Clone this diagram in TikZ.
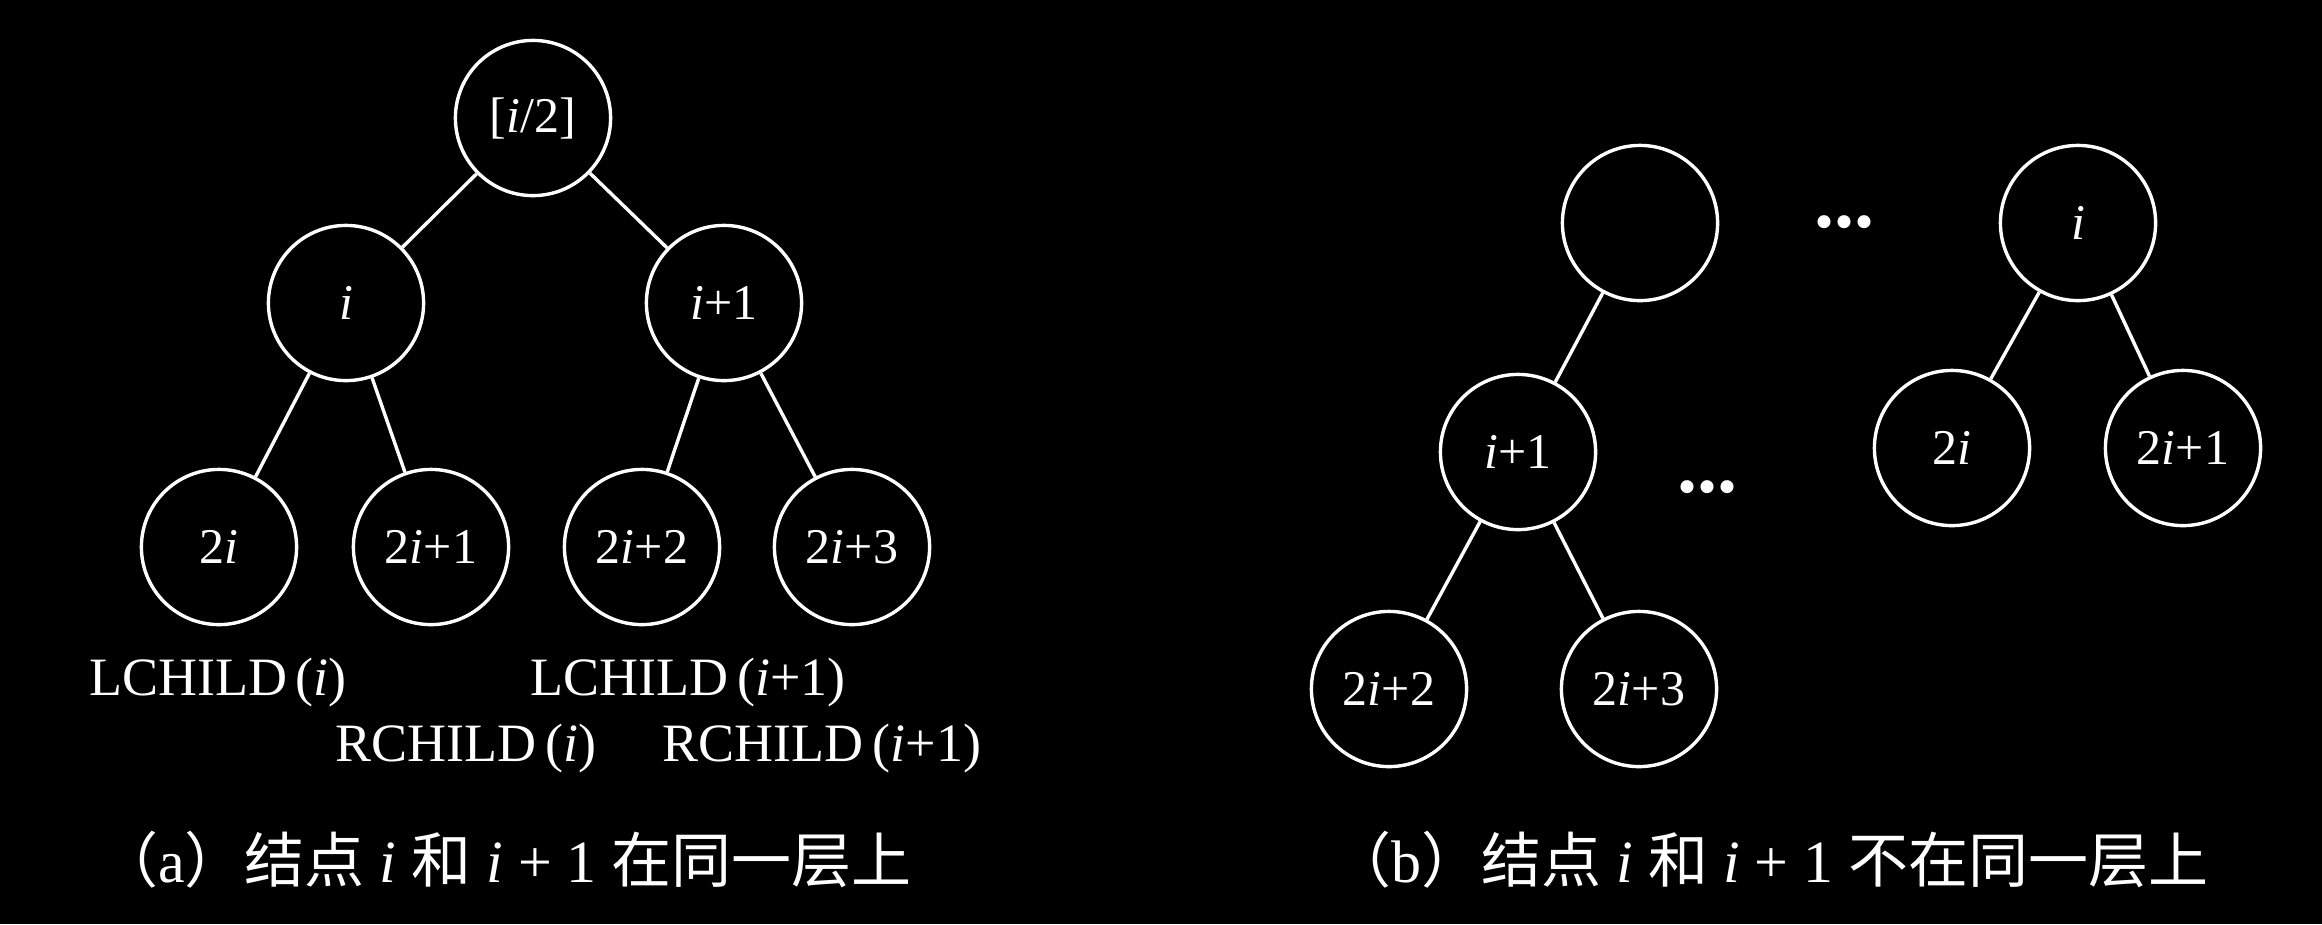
\documentclass[tikz,border=0pt]{standalone}
\usepackage{fontspec}
\setmainfont{Liberation Serif}
\newfontfamily\cjk{Noto Sans CJK SC}

\tikzset{every picture/.style={line width=0.85pt}}
\tikzset{
  vertex/.style={draw=white, circle, minimum size=38.8pt, inner sep=0pt, text=white, font=\fontsize{12.5}{14}\selectfont},
  link/.style={draw=white},
  childlabel/.style={text=white, inner sep=0.75pt, font=\fontsize{13.5}{16}\selectfont},
  captiontext/.style={text=white, inner sep=0.75pt, font=\fontsize{15}{18}\selectfont},
  ellipsisdots/.style={text=white, inner sep=0pt, font=\bfseries\fontsize{20}{20}\selectfont}
}

\begin{document}
\begin{tikzpicture}[x=0.25pt,y=0.25pt,yscale=-1,xscale=1]
%background, also sets the size of the picture
\fill[black] (0,0) rectangle (2322,924);

%(a) nodes on the same level
%Shape: Circle [root]
\node[vertex] (half) at (533,118) {[\textit{i}/2]};
%Shape: Circle [level 2]
\node[vertex] (ai) at (346,303) {\textit{i}};
\node[vertex] (aiplus) at (724,303) {\textit{i}+1};
%Shape: Circle [level 3]
\node[vertex] (atwoi) at (219,547) {2\textit{i}};
\node[vertex] (atwoia) at (431,547) {2\textit{i}+1};
\node[vertex] (atwoib) at (642,547) {2\textit{i}+2};
\node[vertex] (atwoic) at (852,547) {2\textit{i}+3};

%Straight Lines
\draw[link] (half) -- (ai);
\draw[link] (half) -- (aiplus);
\draw[link] (ai) -- (atwoi);
\draw[link] (ai) -- (atwoia);
\draw[link] (aiplus) -- (atwoib);
\draw[link] (aiplus) -- (atwoic);

% Text Node
\node[childlabel] (lci) at (218,682) {LCHILD\,(\textit{i})};
\node[childlabel] (lcip) at (688,682) {LCHILD\,(\textit{i}+1)};
\node[childlabel] (rci) at (466,748) {RCHILD\,(\textit{i})};
\node[childlabel] (rcip) at (822,748) {RCHILD\,(\textit{i}+1)};
% Text Node
\node[captiontext] (capa) at (505,860) {{\cjk （}a{\cjk ）结点} \textit{i} {\cjk 和} \textit{i} + 1 {\cjk 在同一层上}};

%(b) nodes on different levels
%Shape: Circle
\node[vertex] (bup) at (1640,223) {};
\node[vertex] (bi) at (2078,223) {\textit{i}};
\node[vertex] (biplus) at (1518,452) {\textit{i}+1};
\node[vertex] (btwoi) at (1952,448) {2\textit{i}};
\node[vertex] (btwoia) at (2183,448) {2\textit{i}+1};
\node[vertex] (btwoib) at (1389,689) {2\textit{i}+2};
\node[vertex] (btwoic) at (1639,689) {2\textit{i}+3};

%Straight Lines
\draw[link] (bup) -- (biplus);
\draw[link] (biplus) -- (btwoib);
\draw[link] (biplus) -- (btwoic);
\draw[link] (bi) -- (btwoi);
\draw[link] (bi) -- (btwoia);

% Text Node
\node[ellipsisdots] (dotsup) at (1844,222) {...};
\node[ellipsisdots] (dotsdown) at (1707,487) {...};
% Text Node
\node[captiontext] (capb) at (1770,860) {{\cjk （}b{\cjk ）结点} \textit{i} {\cjk 和} \textit{i} + 1 {\cjk 不在同一层上}};

\end{tikzpicture}
\end{document}
